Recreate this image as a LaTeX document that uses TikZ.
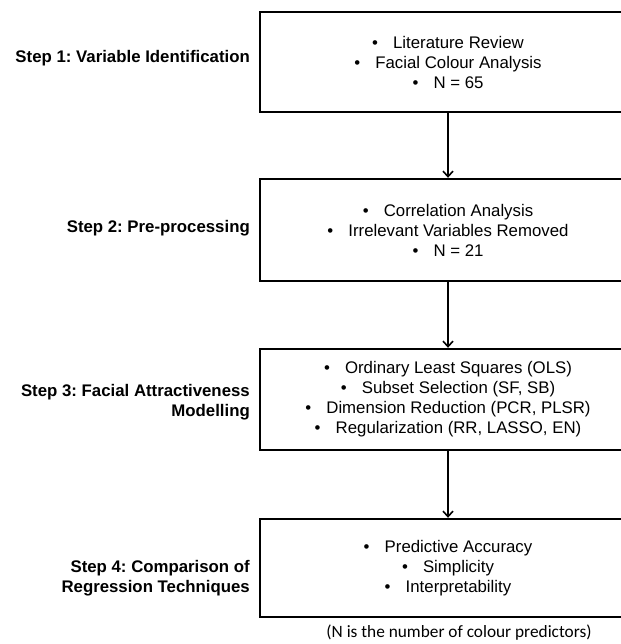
\documentclass[tikz,border=0pt]{standalone}
\usepackage{fontspec}
\setmainfont{Liberation Sans}
\newfontfamily\notefont{Carlito}
\usetikzlibrary{arrows.meta}
\frenchspacing

\begin{document}
\begin{tikzpicture}[x=1pt,y=-1pt,
		stepbox/.style={draw,line width=2.4pt,minimum width=376pt,minimum height=100pt,align=center,font=\fontsize{16.8}{20}\selectfont},
		steplabel/.style={anchor=east,align=right,inner sep=0pt,font=\fontsize{16.8}{20}\selectfont\bfseries},
		flow/.style={line width=1.6pt,-{Straight Barb[length=5.5pt,width=10pt,line width=1.6pt]}}]
		\useasboundingbox (0,0) rectangle (620,644);
		
		% Boxes of the four steps (right side runs off the page)
		\node[stepbox] (box1) at (448,62) {•\hspace{0.9em}Literature Review\\ •\hspace{0.9em}Facial Colour Analysis\\ •\hspace{0.9em}N = 65};
		\node[stepbox,minimum height=102pt] (box2) at (448,230) {•\hspace{0.9em}Correlation Analysis\\ •\hspace{0.9em}Irrelevant Variables Removed\\ •\hspace{0.9em}N = 21};
		\node[stepbox,minimum height=101pt] (box3) at (448,399.5) {•\hspace{0.9em}Ordinary Least Squares (OLS)\\ •\hspace{0.9em}Subset Selection (SF, SB)\\ •\hspace{0.9em}Dimension Reduction (PCR, PLSR)\\ •\hspace{0.9em}Regularization (RR, LASSO, EN)};
		\node[stepbox,minimum height=98pt] (box4) at (448,568) {•\hspace{0.9em}Predictive Accuracy\\ •\hspace{0.9em}Simplicity\\ •\hspace{0.9em}Interpretability};
		
		% Step names on the left
		\node[steplabel] (lab1) at (250,58) {Step 1: Variable Identification};
		\node[steplabel] (lab2) at (250,228) {Step 2: Pre-processing};
		\node[steplabel] (lab3) at (250,402) {Step 3: Facial Attractiveness\\ Modelling};
		\node[steplabel] (lab4) at (250,578) {Step 4: Comparison of\\ Regression Techniques};
		
		% Arrows between the steps
		\draw[flow] (box1) -- (box2);
		\draw[flow] (box2) -- (box3);
		\draw[flow] (box3) -- (box4);
		
		% Note below the last box
		\node[font=\notefont\fontsize{17.3}{20}\selectfont] (note) at (459,633) {(N is the number of colour predictors)};
	\end{tikzpicture}
\end{document}
